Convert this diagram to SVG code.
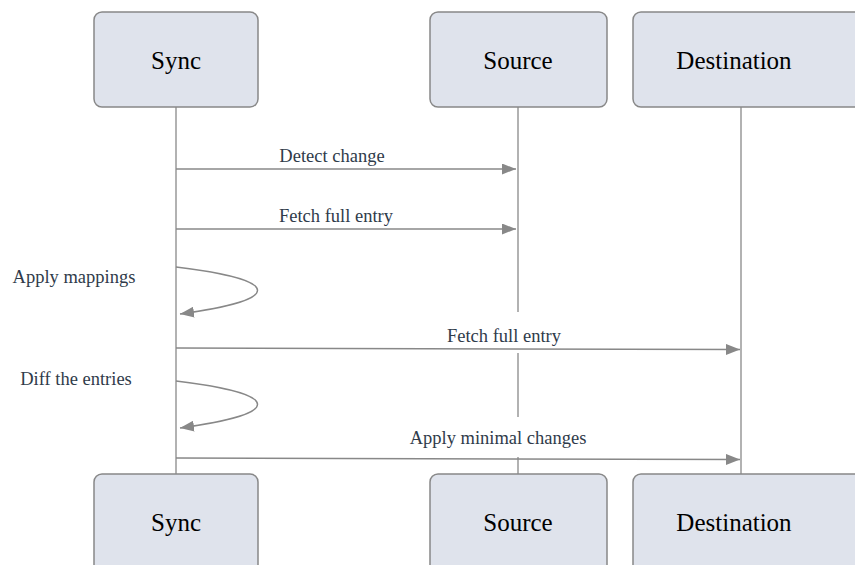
<svg xmlns="http://www.w3.org/2000/svg" width="855" height="565" viewBox="0 0 855 565">
<style>
.actor{fill:#dfe3ec;stroke:#888;stroke-width:1.5}
.atext{font-size:25px;fill:#000;text-anchor:middle}
.life{stroke:#999;stroke-width:1.5;fill:none}
.msg{stroke:#888;stroke-width:1.5;fill:none}
.mtext{font-size:18.5px;fill:#2f3b4a;text-anchor:middle}
</style>
<defs>
<marker id="arr" viewBox="0 0 14 11" refX="14" refY="5.5" markerWidth="14" markerHeight="11" markerUnits="userSpaceOnUse" orient="auto">
<path d="M0,0 L14,5.5 L0,11 Z" fill="#888"/>
</marker>
</defs>
<rect width="855" height="565" fill="#fff"/>
<g id="lifelines">
<line class="life" x1="176" y1="107" x2="176" y2="474"/>
<line class="life" x1="518" y1="107" x2="518" y2="312"/>
<line class="life" x1="518" y1="353" x2="518" y2="417"/>
<line class="life" x1="518" y1="457" x2="518" y2="474"/>
<line class="life" x1="741" y1="107" x2="741" y2="474"/>
</g>
<g font-family="Liberation Serif, Times New Roman, Tinos, DejaVu Serif, serif">
<g id="sync-top"><rect class="actor" x="94" y="12" width="164" height="95" rx="8"/><text class="atext" x="176" y="69">Sync</text></g>
<g id="source-top"><rect class="actor" x="430" y="12" width="177" height="95" rx="8"/><text class="atext" x="518" y="69">Source</text></g>
<g id="destination-top"><rect class="actor" x="633" y="12" width="240" height="95" rx="8"/><text class="atext" x="734" y="69">Destination</text></g>
<g id="sync-bottom"><rect class="actor" x="94" y="474" width="164" height="100" rx="8"/><text class="atext" x="176" y="531">Sync</text></g>
<g id="source-bottom"><rect class="actor" x="430" y="474" width="177" height="100" rx="8"/><text class="atext" x="518" y="531">Source</text></g>
<g id="destination-bottom"><rect class="actor" x="633" y="474" width="240" height="100" rx="8"/><text class="atext" x="734" y="531">Destination</text></g>
<g id="connectors">
<line class="msg" x1="176" y1="169" x2="516" y2="169" marker-end="url(#arr)"/>
<text class="mtext" x="332" y="162">Detect change</text>
<line class="msg" x1="176" y1="229" x2="516" y2="229" marker-end="url(#arr)"/>
<text class="mtext" x="336" y="222">Fetch full entry</text>
<path class="msg" d="M176,267 C284,280 284,300 180,314" marker-end="url(#arr)"/>
<text class="mtext" x="74" y="283">Apply mappings</text>
<line class="msg" x1="176" y1="348" x2="740" y2="349.5" marker-end="url(#arr)"/>
<text class="mtext" x="504" y="342">Fetch full entry</text>
<path class="msg" d="M176,381 C284,394 284,414 180,428" marker-end="url(#arr)"/>
<text class="mtext" x="76" y="385">Diff the entries</text>
<line class="msg" x1="176" y1="458" x2="740" y2="459.5" marker-end="url(#arr)"/>
<text class="mtext" x="498" y="444">Apply minimal changes</text>
</g>
</g>
</svg>
